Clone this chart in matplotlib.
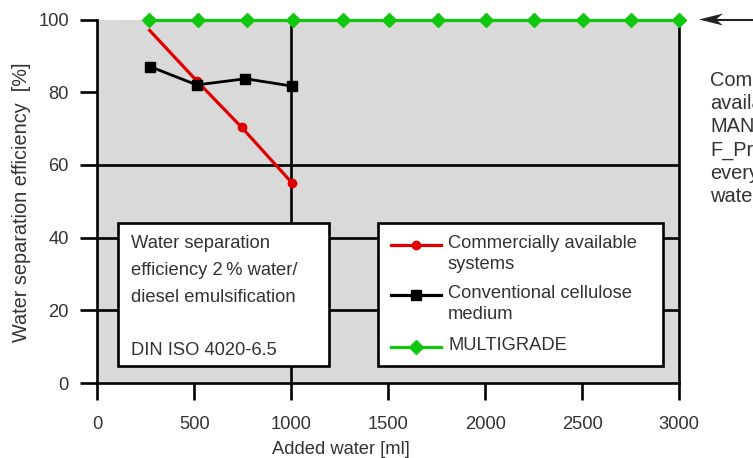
import matplotlib.pyplot as plt
from matplotlib.lines import Line2D
from matplotlib.patches import Rectangle, Polygon

plt.rcParams['font.family'] = ['Liberation Sans', 'DejaVu Sans']

# data
water_commercial = [270, 515, 745, 1005]
eff_commercial = [97, 83, 70.3, 55]
water_cellulose = [274, 513, 764, 1003]
eff_cellulose = [87, 82, 83.7, 81.7]
water_multigrade = [268, 520, 770, 1010, 1265, 1505, 1755, 2005, 2250, 2505, 2755, 3000]
eff_multigrade = [100, 100, 100, 100, 100, 100, 100, 100, 100, 100, 100, 100]

xticks = [0, 500, 1000, 1500, 2000, 2500, 3000]
yticks = [0, 20, 40, 60, 80, 100]
grid_y = [20, 40, 60]
grid_x = [1000]

legend_labels = [['Commercially available', 'systems'],
                 ['Conventional cellulose', 'medium'],
                 ['MULTIGRADE']]
info_lines = ['Water separation', 'efficiency 2\u2009% water/', 'diesel emulsification', '', 'DIN ISO 4020-6.5']
side_lines = ['Commercially', 'available', 'MANN-FILTER', 'F_PreLine', 'every', 'water']

RED = '#e00000'
GREEN = '#10c810'
TXT = '#333333'
FS = 13.2

W, H = 753, 458


def px(x, y):
    return x / W, 1 - y / H


fig = plt.figure(figsize=(W / 100, H / 100), dpi=100)
ax = fig.add_axes([97.3 / W, 1 - 383 / H, (679 - 97.3) / W, (383 - 19.5) / H])
ax.set_facecolor('#d9d9d9')

for g in grid_y:
    ax.axhline(g, color='black', lw=1.9, zorder=1)
for g in grid_x:
    ax.axvline(g, color='black', lw=1.9, zorder=1)

ax.plot(water_commercial, eff_commercial, color=RED, lw=2.3, marker='o', ms=6,
        markevery=[1, 2, 3], zorder=4)
ax.plot(water_cellulose, eff_cellulose, color='black', lw=2, marker='s', ms=7, zorder=5)
ax.plot(water_multigrade, eff_multigrade, color=GREEN, lw=2.3, marker='D', ms=7,
        zorder=6, clip_on=False)

ax.set_xlim(0, 3000)
ax.set_ylim(0, 100)
ax.set_xticks(xticks)
ax.set_yticks(yticks)
ax.spines['top'].set_visible(False)
for s in ['left', 'right', 'bottom']:
    ax.spines[s].set_linewidth(1.9)
ax.tick_params(axis='both', direction='out', length=12, width=1.9,
               labelsize=FS, labelcolor=TXT)
ax.tick_params(axis='x', pad=12)
ax.tick_params(axis='y', pad=8.5)

fig.text(*px(21.7, 202), 'Water separation efficiency  [%]', rotation=90,
         ha='center', va='center', fontsize=14.3, color=TXT)
fig.text(*px(341, 449), 'Added water [ml]', ha='center', va='center',
         fontsize=FS, color=TXT)

# info box
x0, y0 = px(118, 366)
x1, y1 = px(329, 222.5)
fig.patches.append(Rectangle((x0, y0), x1 - x0, y1 - y0, transform=fig.transFigure,
                             facecolor='white', edgecolor='black', lw=1.9, zorder=1))
for i, line in enumerate(info_lines):
    fig.text(*px(130.7, 248.3 + 26.7 * i), line, ha='left', va='baseline',
             fontsize=FS, color=TXT)

# legend box
x0, y0 = px(378, 366)
x1, y1 = px(663, 222.5)
fig.patches.append(Rectangle((x0, y0), x1 - x0, y1 - y0, transform=fig.transFigure,
                             facecolor='white', edgecolor='black', lw=1.9, zorder=1))
handles = [(RED, 'o', 6, 245.3), ('black', 's', 7, 295), (GREEN, 'D', 7, 347.3)]
text_rows = [[248.3, 269], [298.3, 319.3], [350]]
for (c, m, ms, hy), lbl, rows in zip(handles, legend_labels, text_rows):
    xa, ya = px(391, hy)
    xb, _ = px(441, hy)
    fig.add_artist(Line2D([xa, (xa + xb) / 2, xb], [ya, ya, ya], color=c, lw=2.3,
                          marker=m, ms=ms, markevery=[1], transform=fig.transFigure))
    for line, by in zip(lbl, rows):
        fig.text(*px(448, by), line, ha='left', va='baseline', fontsize=FS, color=TXT)

# side note (cut off at the right edge, as in the source) and arrow
for i, line in enumerate(side_lines):
    fig.text(*px(710, 85.7 + 23.3 * i), line, ha='left', va='baseline',
             fontsize=14.4, color=TXT)
sx, sy = zip(px(715, 19.5), px(760, 19.5))
fig.add_artist(Line2D(sx, sy, color='#222222', lw=1.5, transform=fig.transFigure))
fig.patches.append(Polygon([px(699, 19.5), px(723, 13.5), px(716, 19.5), px(723, 25.5)],
                           closed=True, transform=fig.transFigure,
                           facecolor='#222222', edgecolor='none', zorder=2))

fig.savefig('out.png', dpi=100)
